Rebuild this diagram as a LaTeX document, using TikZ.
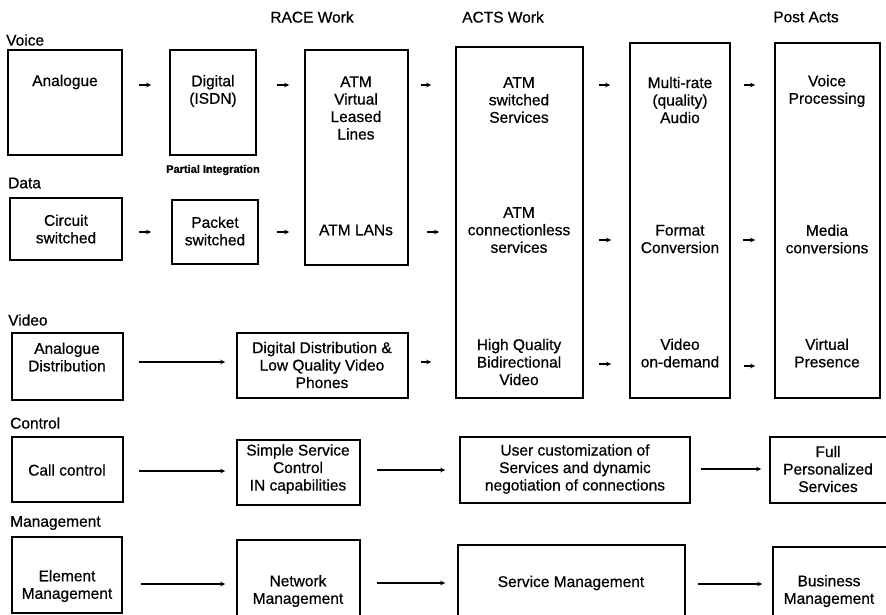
\documentclass[tikz,border=0pt]{standalone}
\usepackage{fontspec}
\setmainfont[FakeBold=0.6]{Liberation Sans}
\usetikzlibrary{fit,arrows.meta}
\tikzset{
  x=1pt, y=-1pt,
  box/.style={draw, line width=1.5pt, inner sep=0pt, fit={#1}},
  txt/.style={align=center, inner sep=0pt, font=\fontsize{15.5}{17.5}\selectfont},
  lbl/.style={anchor=west, inner sep=0pt, font=\fontsize{15.5}{17.5}\selectfont},
  small/.style={inner sep=0pt, font=\fontsize{11}{13}\selectfont\bfseries},
  arr/.style={line width=1.2pt, -{Stealth[length=5pt,width=4.5pt]}},
  gap/.style 2 args={shorten <=#1pt, shorten >=#2pt}
}
\begin{document}
\begin{tikzpicture}
\useasboundingbox[fill=white] (0,0) rectangle (886,615);

% column headings
\node[txt] at (312,17) {RACE Work};
\node[txt] at (503,17) {ACTS Work};
\node[txt] at (806,17) {Post Acts};

% row headings
\node[lbl] at (6,40) {Voice};
\node[lbl] at (8,183) {Data};
\node[lbl] at (8,320) {Video};
\node[lbl] at (10,423) {Control};
\node[lbl] at (10,523) {Management};

% boxes
\node[box={(8,50)(122,155)}] (vA) {};
\node[box={(170,50)(256,155)}] (vB) {};
\node[box={(305,50)(408,265)}] (race) {};
\node[box={(456,47)(583,398)}] (acts) {};
\node[box={(630,43)(730,398)}] (mr) {};
\node[box={(775,43)(880,398)}] (vp) {};

\node[box={(10,198)(122,260)}] (dA) {};
\node[box={(172,200)(258,264)}] (dB) {};

\node[box={(12,333)(123,400)}] (viA) {};
\node[box={(237,333)(408,398)}] (viB) {};

\node[box={(12,437)(123,502)}] (cA) {};
\node[box={(237,440)(360,505)}] (cB) {};
\node[box={(460,437)(690,503)}] (cC) {};
\node[box={(770,437)(895,503)}] (cD) {};

\node[box={(12,537)(122,613)}] (mA) {};
\node[box={(237,540)(360,625)}] (mB) {};
\node[box={(458,545)(685,625)}] (mC) {};
\node[box={(773,547)(895,625)}] (mD) {};

% box texts
\node[txt] at (65,82) {Analogue};
\node[txt] at (213,91) {Digital\\(ISDN)};
\node[small] at (213,170) {Partial Integration};
\node[txt] at (356,108) {ATM\\Virtual\\Leased\\Lines};
\node[txt] at (356,230) {ATM LANs};
\node[txt] at (519,100) {ATM\\switched\\Services};
\node[txt] at (680,100) {Multi-rate\\(quality)\\Audio};
\node[txt] at (827,91) {Voice\\Processing};

\node[txt] at (66,229) {Circuit\\switched};
\node[txt] at (215,231) {Packet\\switched};
\node[txt] at (519,230) {ATM\\connectionless\\services};
\node[txt] at (680,239) {Format\\Conversion};
\node[txt] at (827,239) {Media\\conversions};

\node[txt] at (67,357) {Analogue\\Distribution};
\node[txt] at (322,365) {Digital Distribution \&\\Low Quality Video\\Phones};
\node[txt] at (519,362) {High Quality\\Bidirectional\\Video};
\node[txt] at (680,353) {Video\\on-demand};
\node[txt] at (827,353) {Virtual\\Presence};

\node[txt] at (67,470) {Call control};
\node[txt] at (298,469) {Simple Service\\Control\\IN capabilities};
\node[txt] at (575,469) {User customization of\\Services and dynamic\\negotiation of connections};
\node[txt] at (828,469) {Full\\Personalized\\Services};

\node[txt] at (67,586) {Element\\Management};
\node[txt] at (298,591) {Network\\Management};
\node[txt] at (571,583) {Service Management};
\node[txt] at (829,591) {Business\\Management};

% voice row
\draw[arr,gap={16}{18}] (vA.east |- 0,85) -- (vB.west |- 0,85);
\draw[arr,gap={20}{15}] (vB.east |- 0,85) -- (race.west |- 0,85);
\draw[arr,gap={12}{24}] (race.east |- 0,85) -- (acts.west |- 0,85);
\draw[arr,gap={15}{19}] (acts.east |- 0,85) -- (mr.west |- 0,85);
\draw[arr,gap={13}{19}] (mr.east |- 0,85) -- (vp.west |- 0,85);

% data row
\draw[arr,gap={16}{20}] (dA.east |- 0,232) -- (dB.west |- 0,232);
\draw[arr,gap={18}{15}] (dB.east |- 0,232) -- (race.west |- 0,232);
\draw[arr,gap={18}{16}] (race.east |- 0,232) -- (acts.west |- 0,232);
\draw[arr,gap={15}{18}] (acts.east |- 0,240) -- (mr.west |- 0,240);
\draw[arr,gap={12}{19}] (mr.east |- 0,240) -- (vp.west |- 0,240);

% video row
\draw[arr,gap={15}{11}] (viA.east |- 0,362) -- (viB.west |- 0,362);
\draw[arr,gap={12}{24}] (viB.east |- 0,362) -- (acts.west |- 0,362);
\draw[arr,gap={15}{18}] (acts.east |- 0,364) -- (mr.west |- 0,364);
\draw[arr,gap={13}{19}] (mr.east |- 0,366) -- (vp.west |- 0,366);

% control row
\draw[arr,gap={15}{11}] (cA.east |- 0,471) -- (cB.west |- 0,471);
\draw[arr,gap={16}{14}] (cB.east |- 0,470) -- (cC.west |- 0,470);
\draw[arr,gap={10}{8}] (cC.east |- 0,469) -- (cD.west |- 0,469);

% management row
\draw[arr,gap={18}{11}] (mA.east |- 0,584) -- (mB.west |- 0,584);
\draw[arr,gap={16}{12}] (mB.east |- 0,583) -- (mC.west |- 0,583);
\draw[arr,gap={12}{10}] (mC.east |- 0,584) -- (mD.west |- 0,584);
\end{tikzpicture}
\end{document}
